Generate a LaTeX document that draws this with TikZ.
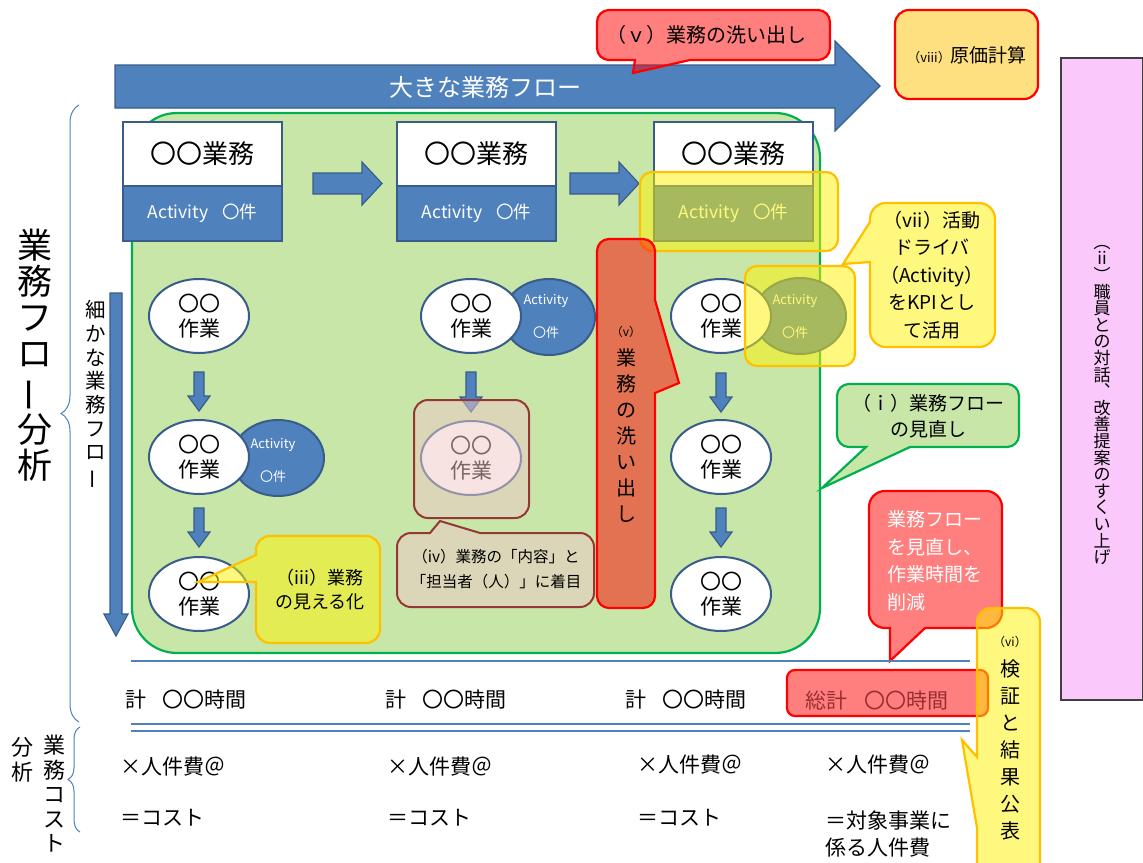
\documentclass[tikz,border=0pt]{standalone}
\usepackage{fontspec}
\setmainfont{Noto Sans CJK JP}
\usetikzlibrary{shapes.geometric,decorations.pathreplacing}
\definecolor{bA}{HTML}{4F81BD}
\definecolor{bB}{HTML}{385D8A}
\definecolor{gBg}{HTML}{C8E6A8}
\definecolor{gBd}{HTML}{00B050}
\definecolor{oBd}{HTML}{FFC000}
\definecolor{pinkF}{HTML}{FAC8FA}
\definecolor{viiiF}{HTML}{FFE080}
\definecolor{ivF}{HTML}{EEC8C6}
\definecolor{ivBd}{HTML}{953735}
\definecolor{dRed}{HTML}{9B2D30}
\newcommand\fs[2]{\fontsize{#1}{#2}\selectfont}
\newcommand\vbar{\rotatebox[origin=c]{90}{ー}}
% rounded box with tail on bottom: style, x1,y1,x2,y2,r, b1,tip,b2 (b1<b2, x)
\newcommand\callB[9][]{%
 \draw[#1] (#2+#6,#3) -- (#4-#6,#3)
  .. controls ({#4-0.448*#6},#3) and (#4,{#3+0.448*#6}) .. (#4,#3+#6)
  -- (#4,#5-#6)
  .. controls (#4,{#5-0.448*#6}) and ({#4-0.448*#6},#5) .. (#4-#6,#5)
  -- (#9,#5) -- (#8) -- (#7,#5)
  -- (#2+#6,#5)
  .. controls ({#2+0.448*#6},#5) and (#2,{#5-0.448*#6}) .. (#2,#5-#6)
  -- (#2,#3+#6)
  .. controls (#2,{#3+0.448*#6}) and ({#2+0.448*#6},#3) .. (#2+#6,#3) -- cycle;}
% tail on top (b1<b2, x)
\newcommand\callT[9][]{%
 \draw[#1] (#2+#6,#3) -- (#7,#3) -- (#8) -- (#9,#3) -- (#4-#6,#3)
  .. controls ({#4-0.448*#6},#3) and (#4,{#3+0.448*#6}) .. (#4,#3+#6)
  -- (#4,#5-#6)
  .. controls (#4,{#5-0.448*#6}) and ({#4-0.448*#6},#5) .. (#4-#6,#5)
  -- (#2+#6,#5)
  .. controls ({#2+0.448*#6},#5) and (#2,{#5-0.448*#6}) .. (#2,#5-#6)
  -- (#2,#3+#6)
  .. controls (#2,{#3+0.448*#6}) and ({#2+0.448*#6},#3) .. (#2+#6,#3) -- cycle;}
% tail on left (b1<b2, y)
\newcommand\callL[9][]{%
 \draw[#1] (#2+#6,#3) -- (#4-#6,#3)
  .. controls ({#4-0.448*#6},#3) and (#4,{#3+0.448*#6}) .. (#4,#3+#6)
  -- (#4,#5-#6)
  .. controls (#4,{#5-0.448*#6}) and ({#4-0.448*#6},#5) .. (#4-#6,#5)
  -- (#2+#6,#5)
  .. controls ({#2+0.448*#6},#5) and (#2,{#5-0.448*#6}) .. (#2,#5-#6)
  -- (#2,#9) -- (#8) -- (#2,#7)
  -- (#2,#3+#6)
  .. controls (#2,{#3+0.448*#6}) and ({#2+0.448*#6},#3) .. (#2+#6,#3) -- cycle;}
% tail on right (b1<b2, y)
\newcommand\callR[9][]{%
 \draw[#1] (#2+#6,#3) -- (#4-#6,#3)
  .. controls ({#4-0.448*#6},#3) and (#4,{#3+0.448*#6}) .. (#4,#3+#6)
  -- (#4,#7) -- (#8) -- (#4,#9)
  -- (#4,#5-#6)
  .. controls (#4,{#5-0.448*#6}) and ({#4-0.448*#6},#5) .. (#4-#6,#5)
  -- (#2+#6,#5)
  .. controls ({#2+0.448*#6},#5) and (#2,{#5-0.448*#6}) .. (#2,#5-#6)
  -- (#2,#3+#6)
  .. controls (#2,{#3+0.448*#6}) and ({#2+0.448*#6},#3) .. (#2+#6,#3) -- cycle;}
\newcommand\darr[3]{\draw[barr] (#1-5,#2) -- (#1+5,#2) -- (#1+5,#3-15) -- (#1+11,#3-15) -- (#1,#3) -- (#1-11,#3-15) -- (#1-5,#3-15) -- cycle;}
\begin{document}
\begin{tikzpicture}[x=1pt,y=-1pt,
  every node/.style={inner sep=0pt, outer sep=0pt},
  barr/.style={fill=bA, draw=bB, line width=1.2},
  redc/.style={fill=red, fill opacity=0.5, draw=red, line width=2.2},
  yelc/.style={fill=yellow, fill opacity=0.5, draw=oBd, line width=2.2},
  grc/.style={fill=gBg, draw=gBd, line width=2.2},
  ivc/.style={fill=ivF, fill opacity=0.5, draw=ivBd, line width=2},
  hl/.style={fill=yellow, fill opacity=0.5, draw=oBd, line width=2.2, rounded corners=12},
  wbox/.style={draw=bB, line width=1.5, fill=white, minimum width=159, minimum height=64, font=\fs{26}{30}},
  abox/.style={draw=bB, line width=1.5, fill=bA, minimum width=159, minimum height=55, text=white, font=\fs{17.5}{20}},
  wel/.style={ellipse, draw=bB, line width=2, fill=white, minimum width=100, minimum height=74, align=center, font=\fs{21}{25}},
  bel/.style={ellipse, draw=bB, line width=2, fill=bA, minimum width=92, minimum height=76},
  acttxt/.style={text=white, font=\fs{13}{33}, align=center},
  brc/.style={draw=bA, line width=1, decorate},
  hline/.style={draw=bA, line width=1.8},
  row/.style={font=\fs{21}{25}, anchor=west},
  vt/.style={align=center}]
\useasboundingbox (0,0) rectangle (1143,862);
\fill[white] (0,0) rectangle (1143,862);

% right pink box
\node[draw=black!75, line width=1.2, fill=pinkF, minimum width=82, minimum height=642, anchor=north west] (pinkbox) at (1061,58) {};
\node[vt, font=\fs{17}{16.6}] (pinktxt) at (1102,405) {︵\\ii\\︶\\職\\員\\と\\の\\対\\話\\︑\\改\\善\\提\\案\\の\\す\\く\\い\\上\\げ};

% big arrow
\draw[barr] (115,65) -- (835,65) -- (835,41) -- (880,86) -- (835,131) -- (835,108) -- (115,108) -- cycle;
\node[text=white, font=\fs{24}{28}] (bigtxt) at (485,87) {大きな業務フロー};

% (viii)
\draw[fill=viiiF, draw=red, line width=2.2, rounded corners=14] (895,10) rectangle (1038,99);
\node (viii) at (967,55) {{\fs{13}{16}（viii）}{\fs{19}{22}原価計算}};

% top (v) callout
\callB[redc]{597}{10}{830}{60}{12}{635}{633,73}{690}
\node[font=\fs{20}{24}] (vtop) at (706,35) {（ｖ）業務の洗い出し};

% green region
\draw[fill=gBg, draw=gBd, line width=2.2, rounded corners=45] (132,113) rectangle (820,653);

% business boxes
\node[wbox] (b1) at (202.5,154) {〇〇業務};
\node[abox, anchor=north] (b1a) at (b1.south) {Activity\hspace{0.8em}〇件};
\node[wbox] (b2) at (476.5,154) {〇〇業務};
\node[abox, anchor=north] (b2a) at (b2.south) {Activity\hspace{0.8em}〇件};
\node[wbox] (b3) at (733.5,154) {〇〇業務};
\node[abox, anchor=north] (b3a) at (b3.south) {Activity\hspace{0.8em}〇件};
\draw[barr] (313,173) -- (362,173) -- (362,162) -- (382,183.5) -- (362,205) -- (362,194) -- (313,194) -- cycle;
\draw[barr] (570,173) -- (619,173) -- (619,162) -- (639,183.5) -- (619,205) -- (619,194) -- (570,194) -- cycle;

% left side
\draw[barr] (110,293) -- (122,293) -- (122,614) -- (128,614) -- (116,636) -- (104,614) -- (110,614) -- cycle;
\node[vt, font=\fs{20.5}{23.7}] (fine) at (96,395) {細\\か\\な\\業\\務\\フ\\ロ\\\vbar};
\draw[brc, decoration={brace, amplitude=18}] (79,722) -- (79,105);
\draw[brc, decoration={brace, amplitude=12}] (80,832) -- (80,727);
\node[vt, font=\fs{35}{36}] (flowana) at (35,355) {業\\務\\フ\\ロ\\\vbar\\分\\析};
\node[vt, font=\fs{22}{24.5}] (costa) at (54,794) {業\\務\\コ\\ス\\ト};
\node[vt, font=\fs{22}{25}] (costb) at (23,760) {分\\析};

% activity ellipses
\node[bel] (a12) at (278,458) {};
\node[bel] (a21) at (549,317) {};
\node[bel] (a31) at (800,316) {};
% work ellipses
\node[wel] (e11) at (199,316) {〇〇\\作業};
\node[wel] (e12) at (199,457) {〇〇\\作業};
\node[wel] (e13) at (199,594) {〇〇\\作業};
\node[wel] (e21) at (471,316) {〇〇\\作業};
\node[wel] (e22) at (471,458) {〇〇\\作業};
\node[wel] (e31) at (721,316) {〇〇\\作業};
\node[wel] (e32) at (721,457) {〇〇\\作業};
\node[wel] (e33) at (721,594) {〇〇\\作業};
\node[acttxt] (a12t) at (273,460) {Activity\\〇件};
\node[acttxt] (a21t) at (546,316) {Activity\\〇件};
\node[acttxt] (a31t) at (795,316) {Activity\\〇件};
\darr{199}{372}{411}
\darr{199}{508}{547}
\darr{471}{372}{412}
\darr{721}{373}{412}
\darr{721}{508}{547}

% (iv) overlay box
\draw[ivc, rounded corners=14] (414,400) rectangle (529,518);

% highlights
\draw[hl] (640,172) rectangle (838,251);
\draw[hl] (745,266) rectangle (855,366);

% (v) vertical callout
\callR[redc]{597}{239}{655}{608}{12}{300}{679,383}{393}
\node[font=\fs{12}{14}] (vv) at (626,332) {（v）};
\node[vt, font=\fs{20}{26}] (vvt) at (626,436) {業\\務\\の\\洗\\い\\出\\し};

% (iii)
\callL[yelc]{256}{536}{380}{643}{14}{555}{198,582}{582}
\node[align=center, font=\fs{18}{24}] (iii) at (320,590) {（iii）業務\\の見える化};

% (iv) callout
\callT[ivc]{397}{533}{594}{607}{14}{430}{440,521}{480}
\node[align=center, font=\fs{15.5}{25}] (iv) at (496,569) {（iv）業務の「内容」と\\「担当者（人）」に着目};

% (vii)
\callL[yelc]{870}{203}{995}{347}{16}{222}{843,264}{262}
\node[align=center, font=\fs{19}{27.5}] (vii) at (932,275) {（vii）活動\\ドライバ\\（Activity）\\をKPIとし\\て活用};

% (i)
\callB[grc]{837}{384}{1019}{447}{12}{866}{822,488}{910}
\node[align=center, font=\fs{19}{26}] (i) at (928,416) {（ｉ）業務フロー\\の見直し};

% red callout
\callB[redc]{869}{491}{1002}{628}{16}{890}{890,661}{925}
\node[anchor=west, align=left, text=white, font=\fs{19}{27.5}] (redt) at (887,561) {業務フロー\\を見直し、\\作業時間を\\削減};

% lines
\draw[hline] (131,661) -- (970,661);
\draw[hline] (131,724) -- (970,724);
\draw[hline] (131,731) -- (970,731);

% total box
\draw[redc, rounded corners=8] (787,670) rectangle (988,716);
\node[text=dRed, font=\fs{21}{25}] (total) at (877,701) {総計\hspace{0.8em}〇〇時間};

% (vi)
\callL[yelc]{977}{608}{1040}{880}{14}{757}{962,740}{828}
\node[font=\fs{12}{14}] (vi) at (1010,642) {（vi）};
\node[vt, font=\fs{20}{27}] (vit) at (1010,750) {検\\証\\と\\結\\果\\公\\表};

% rows
\node[row] (h1) at (125,700) {計\hspace{0.8em}〇〇時間};
\node[row] (h2) at (385,700) {計\hspace{0.8em}〇〇時間};
\node[row] (h3) at (625,700) {計\hspace{0.8em}〇〇時間};
\node[row] (p1) at (120,767) {×人件費＠};
\node[row] (p2) at (387,767) {×人件費＠};
\node[row] (p3) at (637,765) {×人件費＠};
\node[row] (p4) at (825,765) {×人件費＠};
\node[row] (c1) at (120,818) {＝コスト};
\node[row] (c2) at (387,818) {＝コスト};
\node[row] (c3) at (637,818) {＝コスト};
\node[row, align=left, font=\fs{21}{27}] (c4) at (825,834) {＝対象事業に\\係る人件費};
\end{tikzpicture}
\end{document}
